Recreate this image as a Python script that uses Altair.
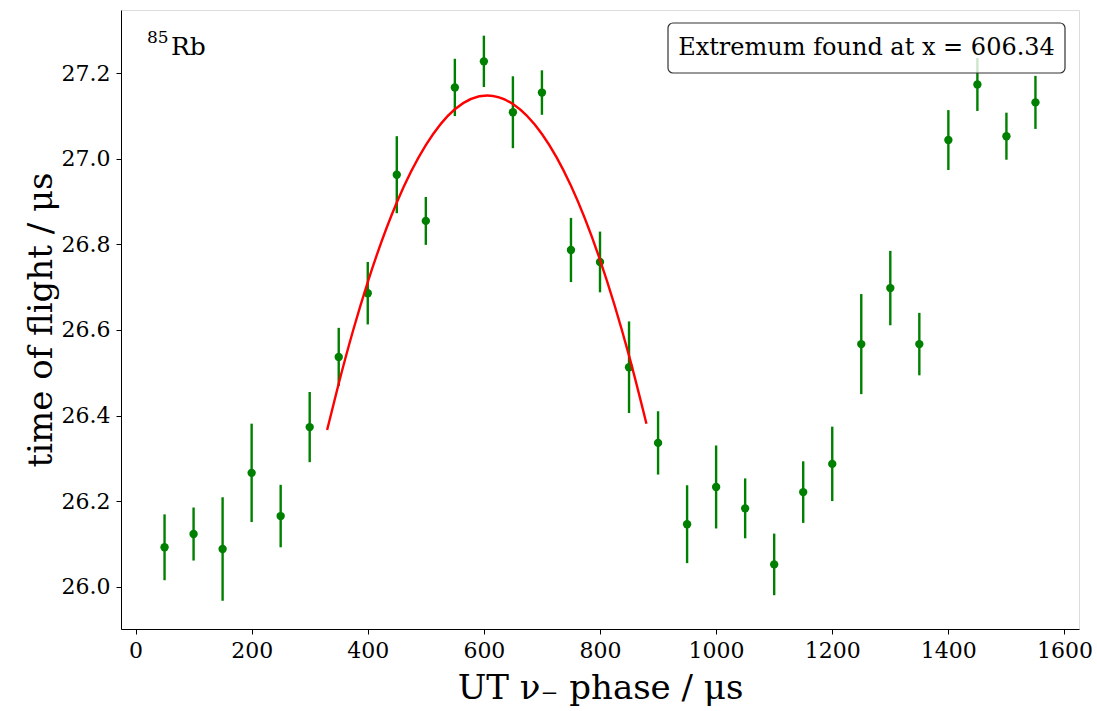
import altair as alt
import pandas as pd

# ---- data ----
phase = [50, 100, 150, 200, 250, 300, 350, 400, 450, 500, 550, 600, 650, 700, 750,
         800, 850, 900, 950, 1000, 1050, 1100, 1150, 1200, 1250, 1300, 1350, 1400,
         1450, 1500, 1550]
tof = [26.092, 26.123, 26.088, 26.266, 26.165, 26.373, 26.537, 26.686, 26.963, 26.855,
       27.167, 27.228, 27.109, 27.155, 26.787, 26.759, 26.513, 26.336, 26.146, 26.233,
       26.183, 26.052, 26.221, 26.287, 26.567, 26.698, 26.567, 27.044, 27.174, 27.053,
       27.132]
err = [0.077, 0.062, 0.121, 0.115, 0.073, 0.082, 0.068, 0.073, 0.090, 0.056, 0.067,
       0.060, 0.084, 0.052, 0.075, 0.071, 0.107, 0.074, 0.091, 0.097, 0.070, 0.072,
       0.072, 0.087, 0.117, 0.087, 0.073, 0.070, 0.062, 0.055, 0.062]

fit_phase = [330, 350, 375, 400, 450, 500, 550, 606, 650, 700, 750, 800, 850, 880]
fit_tof = [26.366, 26.475, 26.600, 26.712, 26.898, 27.032, 27.116, 27.148, 27.128,
           27.058, 26.937, 26.764, 26.540, 26.381]

x_ticks = [0, 200, 400, 600, 800, 1000, 1200, 1400, 1600]
y_ticks = [26.0, 26.2, 26.4, 26.6, 26.8, 27.0, 27.2]
note_text = "Extremum found at x = 606.34"

FONT = "DejaVu Serif"
GREEN = "#008000"

df = pd.DataFrame({"phase": phase, "tof": tof})
df["lo"] = [t - e for t, e in zip(tof, err)]
df["hi"] = [t + e for t, e in zip(tof, err)]
fit_df = pd.DataFrame({"phase": fit_phase, "tof": fit_tof})
one = pd.DataFrame({"k": [0]})

xscale = alt.Scale(domain=[-25, 1625], nice=False, zero=False)
yscale = alt.Scale(domain=[25.901, 27.348], nice=False, zero=False)

axis_common = dict(grid=False, domainColor="black", tickColor="black",
                   labelColor="black", titleColor="black", labelFont=FONT,
                   titleFont=FONT, labelFontSize=22, titleFontSize=34,
                   titleFontWeight="normal", tickSize=5, domainWidth=1, tickWidth=1)

xax = alt.Axis(values=x_ticks, format="d", title="UT ν₋ phase / μs", labelPadding=6,
               titlePadding=10, **axis_common)
yax = alt.Axis(values=y_ticks, format=".1f", title="time of flight / μs",
               labelPadding=6, titlePadding=3, **axis_common)

bars = alt.Chart(df).mark_rule(color=GREEN, strokeWidth=2.4).encode(
    x=alt.X("phase:Q", scale=xscale, axis=xax),
    y=alt.Y("lo:Q", scale=yscale, axis=yax),
    y2="hi:Q",
)
pts = alt.Chart(df).mark_circle(color=GREEN, size=70, opacity=1).encode(
    x=alt.X("phase:Q", scale=xscale),
    y=alt.Y("tof:Q", scale=yscale),
)
fit = alt.Chart(fit_df).mark_line(color="red", strokeWidth=2.4,
                                  interpolate="monotone").encode(
    x=alt.X("phase:Q", scale=xscale),
    y=alt.Y("tof:Q", scale=yscale),
)

box = alt.Chart(one).mark_rect(fill="white", fillOpacity=0.8, stroke="#333333",
                               strokeWidth=1.2, cornerRadius=5).encode(
    x=alt.value(547), x2=alt.value(944), y=alt.value(13), y2=alt.value(63)
)
box_text = alt.Chart(one).mark_text(text=note_text, font=FONT, fontSize=24,
                                    align="center", baseline="middle",
                                    color="black").encode(
    x=alt.value(745.5), y=alt.value(38)
)
sup = alt.Chart(one).mark_text(text="85", font=FONT, fontSize=17, align="left",
                               baseline="alphabetic", color="black").encode(
    x=alt.value(26), y=alt.value(33)
)
rb = alt.Chart(one).mark_text(text="Rb", font=FONT, fontSize=25, align="left",
                              baseline="alphabetic", color="black").encode(
    x=alt.value(50), y=alt.value(45)
)

chart = alt.layer(bars, pts, fit, box, box_text, sup, rb).properties(
    width=958, height=619,
    autosize=alt.AutoSizeParams(type="none"),
    padding={"left": 121, "top": 10, "right": 18, "bottom": 82},
).configure_view(stroke="black", strokeWidth=1).configure(background="white")

chart.save("out.html", embed_options={"renderer": "svg", "actions": False})
